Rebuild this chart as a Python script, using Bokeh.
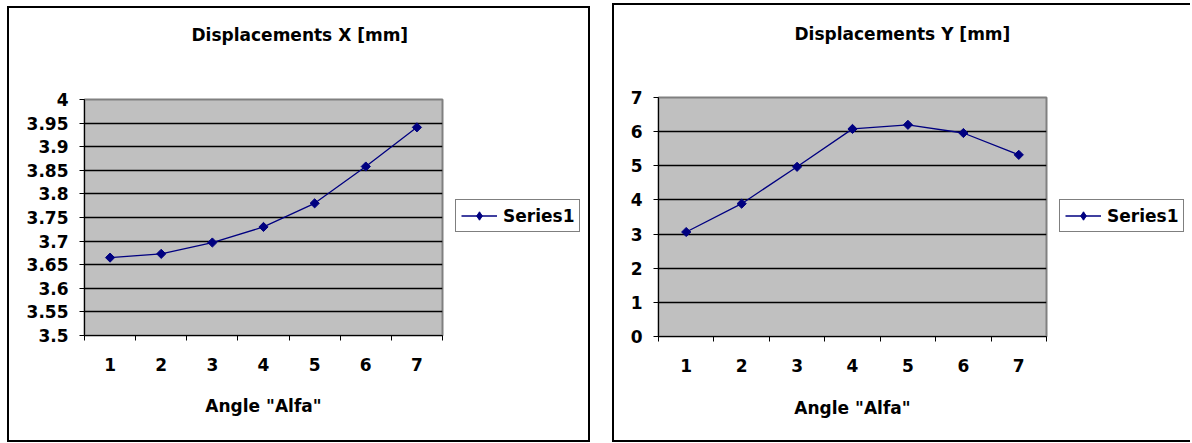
import math
from bokeh.plotting import figure
from bokeh.layouts import row, column
from bokeh.models import FixedTicker, Range1d, Legend, LegendItem, Title, Spacer
from bokeh.embed import file_html
from bokeh.resources import INLINE

# ---- data ----
angles = [1, 2, 3, 4, 5, 6, 7]
angle_bounds = [0.5, 1.5, 2.5, 3.5, 4.5, 5.5, 6.5, 7.5]
disp_x = [3.665, 3.673, 3.697, 3.730, 3.780, 3.858, 3.941]
disp_y = [3.06, 3.89, 4.97, 6.08, 6.20, 5.96, 5.32]
x_ticks = [3.5, 3.55, 3.6, 3.65, 3.7, 3.75, 3.8, 3.85, 3.9, 3.95, 4.0]
x_tick_labels = ["3.5", "3.55", "3.6", "3.65", "3.7", "3.75", "3.8", "3.85", "3.9", "3.95", "4"]
y_ticks = [0, 1, 2, 3, 4, 5, 6, 7]
y_tick_labels = ["0", "1", "2", "3", "4", "5", "6", "7"]
series_name = "Series1"
x_label = 'Angle "Alfa"'

FONT = "DejaVu Sans"
NAVY = "#000080"
BORDER = "2px solid black"


def make_plot(title, values, ticks, labels, width, height, mb, title_offset,
              title_gap, axis_label_standoff, styles):
    p = figure(width=width, height=height, output_backend="svg", toolbar_location=None,
               x_range=Range1d(angle_bounds[0], angle_bounds[-1]),
               y_range=Range1d(ticks[0], ticks[-1]),
               min_border_left=mb[0], min_border_right=mb[1],
               min_border_top=mb[2], min_border_bottom=mb[3],
               background_fill_color="#C0C0C0", border_fill_color="white",
               outline_line_color="#808080", outline_line_width=2,
               styles=styles)
    p.xgrid.visible = False
    p.ygrid.ticker = FixedTicker(ticks=ticks[1:-1])
    p.ygrid.grid_line_color = "black"
    p.ygrid.grid_line_width = 1.3

    xa = p.xaxis[0]
    xa.ticker = FixedTicker(ticks=angles, minor_ticks=angle_bounds)
    xa.major_tick_line_color = None
    xa.major_tick_out = 5
    xa.major_tick_in = 0
    xa.minor_tick_line_color = "black"
    xa.minor_tick_out = 5
    xa.minor_tick_in = 0
    xa.axis_line_color = "black"
    xa.major_label_standoff = 17
    xa.major_label_text_font = FONT
    xa.major_label_text_font_style = "bold"
    xa.major_label_text_font_size = "17px"
    xa.major_label_text_color = "black"
    xa.axis_label = x_label
    xa.axis_label_text_font = FONT
    xa.axis_label_text_font_style = "bold"
    xa.axis_label_text_font_size = "17px"
    xa.axis_label_text_color = "black"
    xa.axis_label_standoff = axis_label_standoff

    ya = p.yaxis[0]
    ya.ticker = FixedTicker(ticks=ticks)
    ya.major_label_overrides = {t: l for t, l in zip(ticks, labels)}
    ya.major_tick_out = 5
    ya.major_tick_in = 0
    ya.minor_tick_line_color = None
    ya.axis_line_color = "black"
    ya.major_tick_line_color = "black"
    ya.major_label_standoff = 11
    ya.major_label_text_font = FONT
    ya.major_label_text_font_style = "bold"
    ya.major_label_text_font_size = "17px"
    ya.major_label_text_color = "black"

    p.line(angles, values, line_color=NAVY, line_width=1.3)
    p.scatter(angles, values, marker="square", size=6.5, angle=math.pi / 4,
              fill_color=NAVY, line_color=NAVY)

    # spacer panel between the frame and the title
    p.add_layout(Title(text=" ", standoff=title_gap, text_font=FONT,
                       text_font_size="17px"), "above")
    p.title.text = title
    p.title.align = "left"
    p.title.offset = title_offset
    p.title.standoff = 0
    p.title.text_font = FONT
    p.title.text_font_style = "bold"
    p.title.text_font_size = "17px"
    p.title.text_color = "black"
    return p


def make_legend_panel(values, width, height, legend_loc, styles):
    q = figure(width=width, height=height, output_backend="svg", toolbar_location=None,
               x_range=Range1d(0, 1), y_range=Range1d(0, 1),
               x_axis_location=None, y_axis_location=None,
               min_border_left=0, min_border_right=0, min_border_top=0, min_border_bottom=0,
               background_fill_color="white", border_fill_color="white",
               outline_line_color=None, styles=styles)
    q.xgrid.visible = False
    q.ygrid.visible = False
    ln = q.line(angles, values, line_color=NAVY, line_width=1.3, visible=False)
    sc = q.scatter(angles, values, marker="diamond", fill_color=NAVY,
                   line_color=NAVY, visible=False)
    leg = Legend(items=[LegendItem(label=series_name, renderers=[ln, sc])],
                 location=legend_loc, margin=0, padding=5, spacing=0,
                 glyph_width=36, glyph_height=21, label_height=21, label_standoff=6,
                 label_text_font=FONT, label_text_font_style="bold",
                 label_text_font_size="17px", label_text_color="black",
                 border_line_color="black", border_line_width=1.5,
                 background_fill_color="white", background_fill_alpha=1.0,
                 click_policy="none")
    q.add_layout(leg, "center")
    return q


left_plot = make_plot("Displacements X [mm]", disp_x, x_ticks, x_tick_labels,
                      441, 436, (75, 8, 91, 109), 107, 33, 22,
                      {"border": BORDER, "border-right": "none"})
left_leg = make_legend_panel(disp_x, 142, 436, (7, 103),
                             {"border": BORDER, "border-left": "none"})
right_plot = make_plot("Displacements Y [mm]", disp_y, y_ticks, y_tick_labels,
                       440, 439, (44, 8, 92, 108), 136, 32, 23,
                       {"border": BORDER, "border-right": "none"})
right_leg = make_legend_panel(disp_y, 138, 439, (7, 104),
                              {"border": BORDER, "border-left": "none",
                               "border-right": "none"})

layout = row(Spacer(width=7),
             column(Spacer(height=6), row(left_plot, left_leg)),
             Spacer(width=22),
             column(Spacer(height=3), row(right_plot, right_leg)))
open("out.html", "w").write(file_html(layout, INLINE))
